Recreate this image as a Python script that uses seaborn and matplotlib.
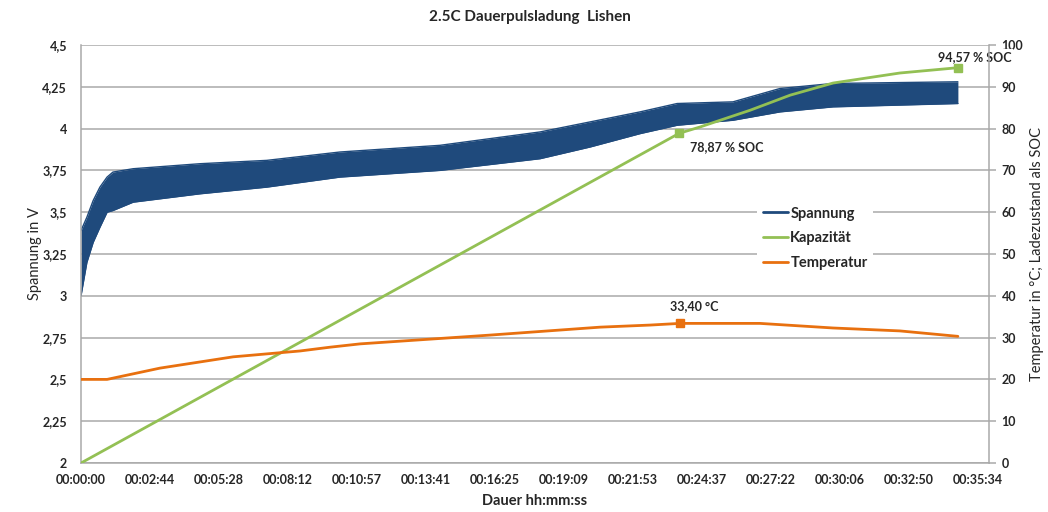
import matplotlib
matplotlib.use("Agg")
import matplotlib.pyplot as plt
import numpy as np
import pandas as pd
import seaborn as sns
from matplotlib.lines import Line2D
from matplotlib.ticker import FixedLocator, FuncFormatter

# --- data -------------------------------------------------------------
time_labels = ["00:00:00", "00:02:44", "00:05:28", "00:08:12", "00:10:57",
               "00:13:41", "00:16:25", "00:19:09", "00:21:53", "00:24:37",
               "00:27:22", "00:30:06", "00:32:50", "00:35:34"]

# voltage pulse band (upper / lower envelope), seconds vs volts
volt_t = [0, 14, 29, 45, 62, 76, 124, 283, 442, 616, 854, 1092, 1211,
          1330, 1418, 1551, 1663, 1789, 2086]
volt_upper = [3.39, 3.47, 3.57, 3.65, 3.71, 3.74, 3.76, 3.79, 3.81, 3.86,
              3.90, 3.98, 4.04, 4.10, 4.15, 4.16, 4.24, 4.27, 4.28]
volt_lower = [3.00, 3.20, 3.32, 3.41, 3.50, 3.51, 3.56, 3.61, 3.65, 3.71,
              3.75, 3.82, 3.89, 3.97, 4.02, 4.05, 4.10, 4.13, 4.15]

# state of charge in %
cap_t = [0, 1423, 1473, 1592, 1687, 1789, 1948, 2086]
cap_soc = [0.0, 78.87, 80.4, 84.4, 88.0, 90.9, 93.3, 94.57]

# cell temperature in °C
temp_t = [0, 62, 188, 362, 521, 592, 664, 973, 1235, 1354, 1425, 1615,
          1789, 1948, 2086]
temp_c = [20.0, 20.0, 22.7, 25.4, 26.8, 27.7, 28.5, 30.6, 32.5, 33.0,
          33.4, 33.4, 32.3, 31.6, 30.3]

# highlighted points
cap_mark_t = [1423, 2086]
cap_mark_v = [78.87, 94.57]
temp_mark_t = [1425]
temp_mark_v = [33.40]

volt_ticks = [2.0, 2.25, 2.5, 2.75, 3.0, 3.25, 3.5, 3.75, 4.0, 4.25, 4.5]
right_ticks = list(range(0, 101, 10))

# --- style --------------------------------------------------------------
sns.set_theme(style="white")
plt.rcParams["font.family"] = ["Lato", "DejaVu Sans"]

BLUE = "#1f4a7c"
GREEN = "#93c054"
ORANGE = "#e8700f"
GRID = "#a9a9a9"
TEXT = "#262626"


def to_sec(s):
    h, m, sec = (int(p) for p in s.split(":"))
    return h * 3600 + m * 60 + sec


def de_num(v, pos=None):
    if float(v).is_integer():
        return f"{int(v)}"
    return f"{v:g}".replace(".", ",")


fig = plt.figure(figsize=(10.48, 5.12), dpi=100)
ax = fig.add_axes([81 / 1048, 49 / 512, 908 / 1048, 418 / 512])
ax2 = ax.twinx()

# voltage band
ax.fill_between(volt_t, volt_lower, volt_upper, color=BLUE, lw=0, zorder=2)
sns.lineplot(x=volt_t, y=volt_upper, ax=ax, color=BLUE, lw=1, zorder=2)
sns.lineplot(x=volt_t, y=volt_lower, ax=ax, color=BLUE, lw=1, zorder=2)

# capacity and temperature on secondary axis
cap_df = pd.DataFrame({"t": cap_t, "soc": cap_soc})
temp_df = pd.DataFrame({"t": temp_t, "temp": temp_c})
sns.lineplot(data=cap_df, x="t", y="soc", ax=ax2, color=GREEN, lw=2, zorder=3)
sns.lineplot(data=temp_df, x="t", y="temp", ax=ax2, color=ORANGE, lw=2, zorder=3)
ax2.plot(cap_mark_t, cap_mark_v, ls="none", marker="s", ms=5.5, color=GREEN, zorder=4)
ax2.plot(temp_mark_t, temp_mark_v, ls="none", marker="s", ms=5.5, color=ORANGE, zorder=4)

lab_kw = dict(textcoords="offset pixels", fontsize=9, fontweight="bold",
              color=TEXT, annotation_clip=False)
ax2.annotate(f"{cap_mark_v[0]:.2f} % SOC".replace(".", ","),
             (cap_mark_t[0], cap_mark_v[0]), xytext=(11, -14),
             ha="left", va="center", zorder=6, **lab_kw)
ax2.annotate(f"{cap_mark_v[1]:.2f} % SOC".replace(".", ","),
             (cap_mark_t[1], cap_mark_v[1]), xytext=(17, 11),
             ha="center", va="center", zorder=1,
             bbox=dict(boxstyle="square,pad=0.1", fc="white", ec="none"), **lab_kw)
ax2.annotate(f"{temp_mark_v[0]:.2f} °C".replace(".", ","),
             (temp_mark_t[0], temp_mark_v[0]), xytext=(14, 17),
             ha="center", va="center", zorder=6, **lab_kw)

# axes limits / ticks
ax.set_xlim(0, 2160)
ax.set_ylim(2, 4.5)
ax2.set_ylim(0, 100)

ax.xaxis.set_major_locator(FixedLocator([to_sec(s) for s in time_labels]))
ax.set_xticklabels(time_labels)
ax.yaxis.set_major_locator(FixedLocator(volt_ticks))
ax.yaxis.set_major_formatter(FuncFormatter(de_num))
ax2.yaxis.set_major_locator(FixedLocator(right_ticks))
ax2.yaxis.set_major_formatter(FuncFormatter(de_num))

ax.grid(axis="y", color=GRID, lw=1.1)
ax.set_axisbelow(True)

for side in ("top", "left", "right", "bottom"):
    ax.spines[side].set_visible(side in ("left", "bottom"))
    ax2.spines[side].set_visible(side == "right")
for a in (ax, ax2):
    for sp in a.spines.values():
        sp.set_color(GRID)
        sp.set_linewidth(1.1)

ax.tick_params(axis="x", length=0, pad=8, labelsize=9, labelcolor=TEXT)
ax.tick_params(axis="y", length=0, pad=10, labelsize=9, labelcolor=TEXT)
ax2.tick_params(axis="y", length=5, width=1.1, color=GRID, pad=4,
                labelsize=9, labelcolor=TEXT)
for lbl in ax.get_xticklabels() + ax.get_yticklabels() + ax2.get_yticklabels():
    lbl.set_fontweight("bold")

ax.set_xlabel("Dauer hh:mm:ss", fontsize=10.5, fontweight="bold", color=TEXT)
ax.xaxis.set_label_coords(0.5, -(494 - 463) / 418)
ax.set_ylabel("Spannung in V", fontsize=10.5, color=TEXT)
ax.yaxis.set_label_coords(-(81 - 42) / 908, 0.5)
ax2.set_ylabel("Temperatur in °C; Ladezustand als SOC", fontsize=10.5,
               color=TEXT, rotation=90)
ax2.yaxis.set_label_coords((1030 - 81) / 908, 0.5)

fig.text(530 / 1048, 1 - 17 / 512, "2.5C Dauerpulsladung  Lishen",
         ha="center", va="center", fontsize=11, fontweight="bold", color=TEXT)

handles = [Line2D([], [], color=BLUE, lw=2),
           Line2D([], [], color=GREEN, lw=2),
           Line2D([], [], color=ORANGE, lw=2)]
leg = ax2.legend(handles, ["Spannung", "Kapazität", "Temperatur"],
                 loc="upper left", bbox_to_anchor=(0.737, 0.645),
                 frameon=True, facecolor="white", edgecolor="none",
                 framealpha=1, fancybox=False, handlelength=1.7,
                 handletextpad=0.15, labelspacing=0.75, borderpad=0.4,
                 prop=dict(size=10.5, weight="bold"))
for t in leg.get_texts():
    t.set_color(TEXT)
leg.set_zorder(5)

fig.savefig("out.png", dpi=100, facecolor="white")
